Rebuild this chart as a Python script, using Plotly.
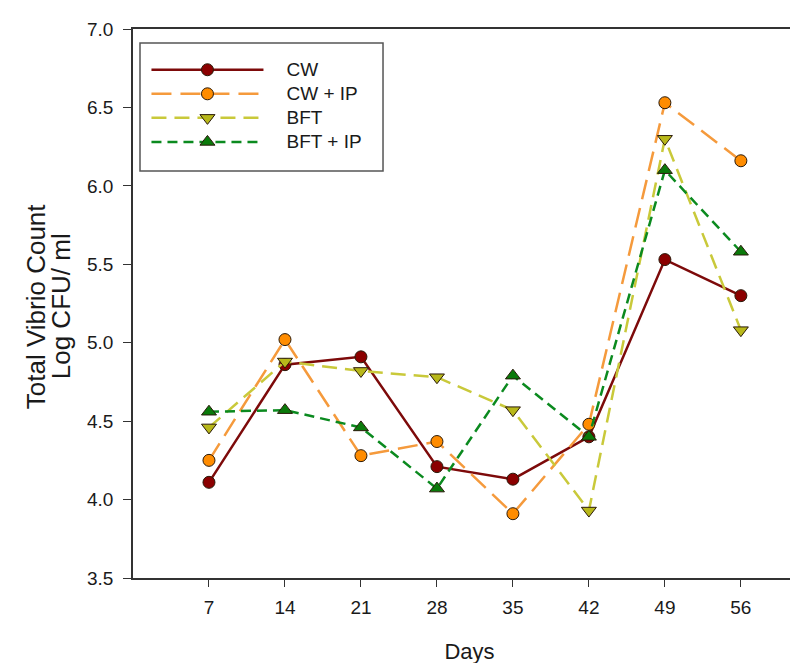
import plotly.graph_objects as go

days = [7, 14, 21, 28, 35, 42, 49, 56]
cw = [4.11, 4.86, 4.91, 4.21, 4.13, 4.40, 5.53, 5.30]
cw_ip = [4.25, 5.02, 4.28, 4.37, 3.91, 4.48, 6.53, 6.16]
bft = [4.46, 4.88, 4.82, 4.78, 4.57, 3.93, 6.30, 5.08]
bft_ip = [4.56, 4.57, 4.46, 4.07, 4.79, 4.40, 6.10, 5.58]

y_ticks = [3.5, 4.0, 4.5, 5.0, 5.5, 6.0, 6.5, 7.0]
y_ticklabels = ["3.5", "4.0", "4.5", "5.0", "5.5", "6.0", "6.5", "7.0"]

FONT = "Liberation Sans, Arial, sans-serif"
TXT = "#1a1a1a"
PAD = "\u00a0" * 4

series = [
    ("CW", cw, "#7d0a0a", "solid", "circle", "#8b0000", 12),
    ("CW + IP", cw_ip, "#f59a3c", "20px,9px", "circle", "#ff8c00", 12),
    ("BFT", bft, "#c9c93a", "15px,8px", "triangle-down", "#b8b81a", 13),
    ("BFT + IP", bft_ip, "#0b8a1f", "10px,6px", "triangle-up", "#0a7a0a", 13),
]

fig = go.Figure()
for name, vals, lc, dash, sym, mc, ms in series:
    fig.add_trace(go.Scatter(
        x=days, y=vals,
        name=PAD + '<span style="font-size:19px">' + name + "</span>",
        mode="lines+markers",
        line=dict(color=lc, width=2.5, dash=dash),
        marker=dict(symbol=sym, size=ms, color=mc,
                    line=dict(color="#2a1a0a", width=1)),
    ))

# legend frame
fig.add_shape(type="rect", xref="paper", yref="paper",
              x0=0.0104, x1=0.3715, y0=0.7413, y1=0.9745,
              line=dict(color="#555555", width=1.5), fillcolor="rgba(0,0,0,0)",
              layer="above")

# y-axis title (two lines)
fig.add_annotation(text="Total Vibrio Count", xref="paper", yref="paper",
                   x=-0.1442, y=0.495, textangle=-90, showarrow=False,
                   xanchor="center", yanchor="middle",
                   font=dict(size=26, family=FONT, color=TXT))
fig.add_annotation(text="Log CFU/ ml", xref="paper", yref="paper",
                   x=-0.1070, y=0.495, textangle=-90, showarrow=False,
                   xanchor="center", yanchor="middle",
                   font=dict(size=26, family=FONT, color=TXT))

fig.update_layout(
    width=798, height=663,
    margin=dict(l=125, r=0, t=21, b=93),
    paper_bgcolor="white", plot_bgcolor="white",
    font=dict(family=FONT, color=TXT),
    showlegend=True,
    legend=dict(
        x=0.0200, y=0.9568, xanchor="left", yanchor="top",
        borderwidth=0, bgcolor="rgba(0,0,0,0)",
        font=dict(size=16.2, family=FONT, color=TXT),
        itemwidth=112, tracegroupgap=0,
    ),
    xaxis=dict(
        range=[0, 62], tickmode="array", tickvals=days,
        ticktext=[str(d) for d in days],
        showgrid=False, zeroline=False,
        showline=True, linecolor="#333333", linewidth=1.5, mirror=True,
        ticks="outside", ticklen=7, tickwidth=1.2, tickcolor="#333333",
        ticklabelstandoff=4,
        tickfont=dict(size=19, family=FONT, color=TXT),
        title=dict(text="Days", font=dict(size=22, family=FONT, color=TXT), standoff=27),
    ),
    yaxis=dict(
        range=[3.5, 7.0], tickmode="array", tickvals=y_ticks, ticktext=y_ticklabels,
        showgrid=False, zeroline=False,
        showline=True, linecolor="#333333", linewidth=1.5,
        ticks="outside", ticklen=8, tickwidth=1.2, tickcolor="#333333",
        ticklabelstandoff=6,
        tickfont=dict(size=19, family=FONT, color=TXT),
    ),
)

fig.write_html("out.html")
